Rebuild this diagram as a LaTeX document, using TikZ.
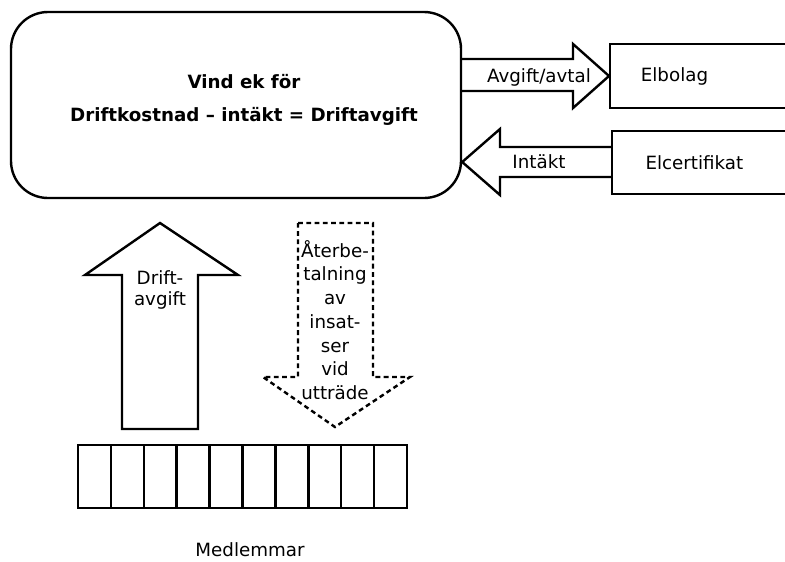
\documentclass[tikz,border=0pt]{standalone}
\usepackage{fontspec}
\setmainfont{DejaVu Sans}
\begin{document}
\begin{tikzpicture}
[x=0.75pt,y=-0.75pt,%
  font=\fontsize{13.7}{17.8}\selectfont,%
  boxDecorate/.style={draw,line width=1.8pt,inner sep=0pt},%
  arrowDecorate/.style={draw,line width=1.8pt,line join=miter},%
  dashDecorate/.style={arrowDecorate,dash pattern=on 3.6pt off 2.6pt},%
  cellDecorate/.style={boxDecorate,minimum width=24.7pt,minimum height=47.25pt},%
  labelDecorate/.style={inner sep=0pt,align=center}]
\useasboundingbox (0,0) rectangle (785,561);
%% boxes
\node (main) at (236,105) [boxDecorate,rounded corners=27.75pt,minimum width=337.5pt,minimum height=139.5pt] {};
\node (title) at (244,100) [labelDecorate,font=\fontsize{13.7}{24.75}\selectfont\bfseries] {Vind ek för\\Driftkostnad – intäkt = Driftavgift};
\node (elbolag) at (609,76) [boxDecorate,anchor=west,minimum height=48pt,text width=100pt,inner xsep=23pt,align=left] {Elbolag};
\node (elcert) at (611,162.5) [boxDecorate,anchor=west,minimum height=47pt,text width=100pt,inner xsep=25pt,align=left] {Elcertifikat};
%% members
\foreach \i in {1,...,10}
{
  \node (m\i) at (78+32.9*\i-16.45,476.5) [cellDecorate] {};
}
\node (medlemmar) at (250,550) {Medlemmar};
%% arrows
\draw[arrowDecorate] (main.east |- 0,59) -- (573,59) -- (573,44) -- (elbolag.west) -- (573,108) -- (573,91) -- (main.east |- 0,91);
\node (avgift) at (539,77) [labelDecorate] {Avgift/avtal};
\draw[arrowDecorate] (elcert.west |- 0,147) -- (500,147) -- (500,129) -- (main.east |- 0,162) -- (500,195) -- (500,177) -- (elcert.west |- 0,177);
\node (intakt) at (539,162) [labelDecorate] {Intäkt};
\draw[arrowDecorate] (122,429) -- (122,275) -- (85,275) -- (160,223) -- (238,275) -- (198,275) -- (198,429) -- cycle;
\node (driftavgift) at (160,290) [labelDecorate,font=\fontsize{13.7}{16}\selectfont] {Drift-\\avgift};
\draw[dashDecorate] (298,223) -- (373,223) -- (373,377) -- (410,377) -- (335,427) -- (263,377) -- (298,377) -- cycle;
\node (aterbetalning) at (335,320) [labelDecorate] {Återbe-\\talning\\av\\insat-\\ser\\vid\\utträde};
\end{tikzpicture}
\end{document}
